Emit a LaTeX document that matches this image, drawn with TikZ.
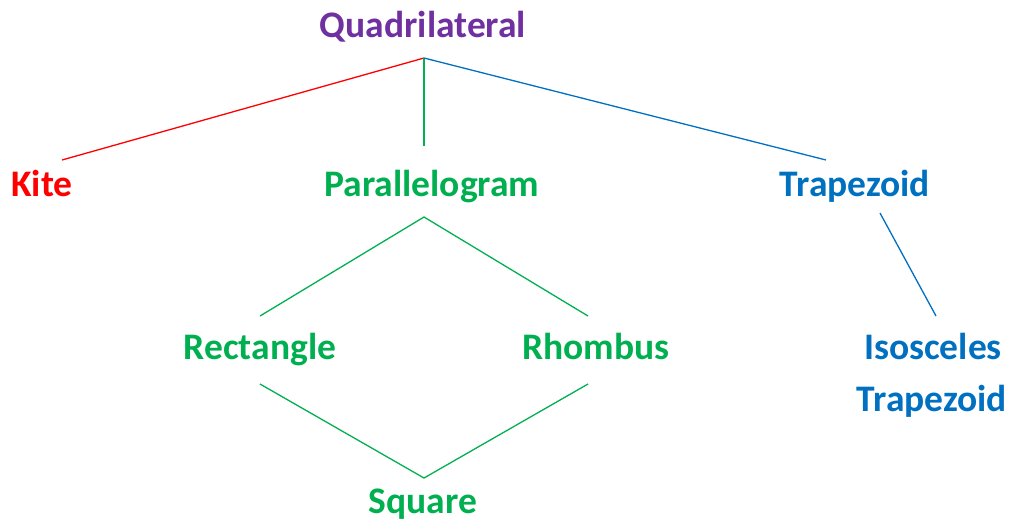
\documentclass[tikz,border=0pt]{standalone}
\usepackage{fontspec}
\setmainfont{Carlito}
\definecolor{cpurple}{RGB}{112,48,160}
\definecolor{cred}{RGB}{255,0,0}
\definecolor{cgreen}{RGB}{0,176,80}
\definecolor{cblue}{RGB}{0,112,192}
\begin{document}
\begin{tikzpicture}[x=1pt,y=-1pt,
  lbl/.style={font=\fontsize{37.5}{42}\selectfont\bfseries, inner sep=0pt, anchor=base},
  conn/.style={line width=1.3pt}]
\useasboundingbox (0,0) rectangle (1014,523);
\node[lbl,text=cpurple] (quad) at (423,37) {Quadrilateral};
\node[lbl,text=cred] (kite) at (42,196) {Kite};
\node[lbl,text=cgreen] (para) at (432,196) {Parallelogram};
\node[lbl,text=cblue] (trap) at (855,196) {Trapezoid};
\node[lbl,text=cgreen] (rect) at (260,359) {Rectangle};
\node[lbl,text=cgreen] (rhomb) at (596,359) {Rhombus};
\node[lbl,text=cblue] (iso) at (933,359) {Isosceles};
\node[lbl,text=cblue] (isotrap) at (932,411) {Trapezoid};
\node[lbl,text=cgreen] (sq) at (423,513) {Square};
% connector ends
\coordinate (qb) at (424,58);
\coordinate (kt) at (62,160);
\coordinate (pt) at (424,146);
\coordinate (tt) at (826,160);
\coordinate (pb) at (424,217);
\coordinate (rt) at (260,316);
\coordinate (rht) at (588,316);
\coordinate (rb) at (260,384);
\coordinate (rhb) at (588,384);
\coordinate (st) at (424,478);
\coordinate (tb) at (880,213);
\coordinate (it) at (936,316);
\draw[conn,cred] (qb) -- (kt);
\draw[conn,cgreen] (qb) -- (pt);
\draw[conn,cblue] (qb) -- (tt);
\draw[conn,cgreen] (rt) -- (pb) -- (rht);
\draw[conn,cgreen] (rb) -- (st) -- (rhb);
\draw[conn,cblue] (tb) -- (it);
\end{tikzpicture}
\end{document}
